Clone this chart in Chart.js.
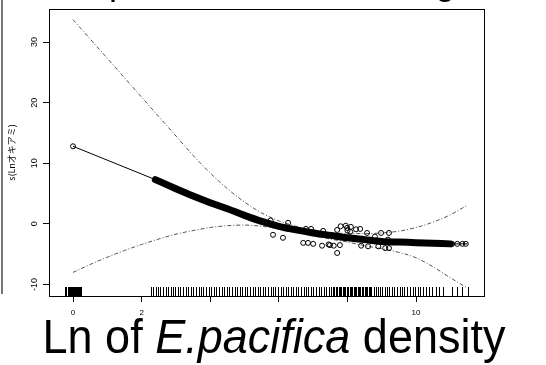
<!DOCTYPE html>
<html>
<head>
<meta charset="utf-8">
<script src="https://cdn.jsdelivr.net/npm/chart.js@4.4.1/dist/chart.umd.min.js"></script>
<style>
  html, body { margin: 0; padding: 0; background: #fff; }
  #wrap { width: 546px; height: 365px; position: relative; }
</style>
</head>
<body>
<div id="wrap"><canvas id="chart"></canvas></div>
<script>
// fitted smooth (thin line) and its dense part (thick band of overlapping points)
var fitX = [0, 2.4, 3, 3.5, 4, 4.5, 5, 5.5, 6, 6.5, 7, 7.5, 8, 8.5, 9, 9.5, 10, 10.5, 11, 11.5];
var fitY = [12.8, 7.3, 5.8, 4.6, 3.5, 2.5, 1.4, 0.4, -0.4, -1.0, -1.5, -1.9, -2.3, -2.6, -2.9, -3.0, -3.1, -3.2, -3.3, -3.3];
var bandX = [2.4, 3, 3.5, 4, 4.5, 5, 5.5, 6, 6.5, 7, 7.5, 8, 8.5, 9, 9.5, 10, 10.5, 11];
var bandY = [7.3, 5.8, 4.6, 3.5, 2.5, 1.4, 0.4, -0.4, -1.0, -1.5, -1.9, -2.3, -2.6, -2.9, -3.0, -3.1, -3.2, -3.3];

// confidence limits
var ciX = [0, 0.5, 1, 1.5, 2, 2.5, 3, 3.5, 4, 4.5, 5, 5.5, 6, 6.5, 7, 7.5, 8, 8.5, 9, 9.5, 10, 10.5, 11, 11.5];
var upperY = [33.7, 30.5, 27.3, 24.1, 20.9, 17.7, 14.5, 11.3, 8.4, 5.8, 3.6, 1.8, 0.5, -0.4, -1.0, -1.4, -1.6, -1.6, -1.5, -1.2, -0.6, 0.3, 1.5, 3.1];
var lowerY = [-8.0, -6.7, -5.5, -4.4, -3.4, -2.5, -1.7, -1.1, -0.6, -0.3, -0.2, -0.4, -0.8, -1.3, -1.9, -2.5, -3.0, -3.6, -4.1, -4.7, -5.6, -7.1, -8.9, -10.6];

// partial residual points away from the band
var ptX = [0, 5.76, 6.27, 5.83, 6.12, 6.79, 6.94, 7.29, 6.71, 6.85, 7.0, 7.26, 7.70, 7.49, 7.78, 7.99, 8.08, 8.37, 8.57, 8.98, 9.21, 9.18, 9.10, 9.21, 8.80,
           7.8, 7.95, 8.1, 8.25, 7.7, 8.0, 7.45, 7.6, 8.4, 8.6, 8.9, 11.05, 11.2, 11.35, 11.45];
var ptY = [12.8, 0.55, 0.17, -1.8, -2.3, -0.83, -0.83, -1.16, -3.14, -3.14, -3.3, -3.6, -4.8, -3.5, -3.5, -0.66, -1.3, -0.83, -1.5, -1.5, -1.5, -2.6, -4.0, -4.0, -2.1,
           -0.4, -0.3, -0.5, -0.9, -1.0, -1.1, -3.4, -3.6, -3.6, -3.7, -3.7, -3.3, -3.3, -3.3, -3.3];

// rug of observed x values
var rugX = [-0.22, -0.19, -0.16, -0.13, -0.10, -0.07, -0.04, -0.01, 0.02, 0.05, 0.08, 0.11, 0.14, 0.17, 0.20, 0.23,
  2.27, 2.33, 2.41, 2.47, 2.55, 2.62, 2.70, 2.76, 2.85, 2.91, 2.98, 3.06, 3.12, 3.20, 3.29, 3.35, 3.43, 3.50, 3.58, 3.66,
  3.72, 3.80, 3.88, 3.95, 4.03, 4.10, 4.18, 4.25, 4.33, 4.40, 4.49, 4.56, 4.62, 4.71, 4.78, 4.86, 4.93, 5.01, 5.08, 5.15,
  5.24, 5.31, 5.38, 5.46, 5.53, 5.60, 5.68, 5.76, 5.83, 5.90, 5.97, 6.05, 6.12, 6.20, 6.27, 6.35, 6.42, 6.49, 6.57, 6.64,
  6.72, 6.79, 6.86, 6.94, 7.01, 7.08, 7.16, 7.23, 7.31, 7.38, 7.45, 7.52, 7.58, 7.62, 7.66, 7.70, 7.74, 7.78, 7.82, 7.86,
  7.90, 7.94, 7.98, 8.02, 8.06, 8.10, 8.14, 8.18, 8.22, 8.26, 8.30, 8.34, 8.38, 8.42, 8.46, 8.50, 8.54, 8.58, 8.62, 8.66,
  8.70, 8.76, 8.82, 8.88, 8.95, 9.02, 9.08, 9.15, 9.22, 9.30, 9.37, 9.45, 9.52, 9.60, 9.66, 9.74, 9.81, 9.90, 9.97, 10.05,
  10.12, 10.21, 10.30, 10.38, 10.47, 10.58, 10.66, 10.79, 11.04, 11.19, 11.33, 11.52];

var xTickLabels = [0, 2, 10];
var yTitle = 's(Lnオキアミ)';
var topTitle = 'Response to krill shoaling';

function pts(xs, ys) {
  return xs.map(function (x, i) { return { x: x, y: ys[i] }; });
}

var dashCI = {
  showLine: true, pointRadius: 0, borderColor: '#555', borderWidth: 1,
  borderDash: [4, 2, 1, 2], cubicInterpolationMode: 'monotone', fill: false
};

// frame, rug and texts
var extras = {
  id: 'extras',
  beforeDraw: function (chart) {
    var ctx = chart.ctx;
    ctx.save();
    ctx.fillStyle = '#fff';
    ctx.fillRect(0, 0, chart.width, chart.height);
    ctx.restore();
  },
  afterDatasetsDraw: function (chart) {
    var ctx = chart.ctx, a = chart.chartArea, xs = chart.scales.x;
    ctx.save();
    ctx.strokeStyle = '#000';
    ctx.lineWidth = 1;
    ctx.beginPath();
    rugX.forEach(function (v) {
      var px = Math.round(xs.getPixelForValue(v)) + 0.5;
      ctx.moveTo(px, a.bottom);
      ctx.lineTo(px, a.bottom - 9);
    });
    ctx.stroke();
    ctx.strokeRect(Math.round(a.left) + 0.5, Math.round(a.top) + 0.5, Math.round(a.right - a.left), Math.round(a.bottom - a.top));
    ctx.restore();
  },
  afterDraw: function (chart) {
    var ctx = chart.ctx;
    ctx.save();
    ctx.fillStyle = '#000';
    ctx.textBaseline = 'alphabetic';
    // x axis title, mixed upright / italic, slightly condensed
    var parts = [
      ['Ln of ', '48px "Liberation Sans"'],
      ['E.pacifica', 'italic 48px "Liberation Sans"'],
      [' density', '48px "Liberation Sans"']
    ];
    var total = 0;
    parts.forEach(function (p) { ctx.font = p[1]; total += ctx.measureText(p[0]).width; });
    ctx.save();
    ctx.translate(274, 353);
    ctx.scale(463 / total, 1);
    var x = -total / 2;
    parts.forEach(function (p) {
      ctx.font = p[1];
      ctx.fillText(p[0], x, 0);
      x += ctx.measureText(p[0]).width;
    });
    ctx.restore();
    // cut-off main title at the top
    ctx.font = '36px "Liberation Sans"';
    ctx.fillText(topTitle, 45, -6);
    // stray frame line at the left edge
    ctx.strokeStyle = '#777';
    ctx.lineWidth = 2;
    ctx.beginPath();
    ctx.moveTo(2, 0);
    ctx.lineTo(2, 294);
    ctx.stroke();
    ctx.restore();
  }
};

new Chart(document.getElementById('chart'), {
  type: 'scatter',
  data: {
    datasets: [
      {
        data: pts(ptX, ptY), pointStyle: 'circle', pointRadius: 2.5,
        borderColor: '#000', borderWidth: 1, backgroundColor: 'rgba(0,0,0,0)'
      },
      {
        data: pts(bandX, bandY), showLine: true, pointRadius: 0,
        borderColor: '#000', borderWidth: 7, borderCapStyle: 'round', cubicInterpolationMode: 'monotone'
      },
      {
        data: pts(fitX, fitY), showLine: true, pointRadius: 0,
        borderColor: '#000', borderWidth: 1, tension: 0
      },
      Object.assign({ data: pts(ciX, upperY) }, dashCI),
      Object.assign({ data: pts(ciX, lowerY) }, dashCI)
    ]
  },
  options: {
    responsive: true,
    maintainAspectRatio: false,
    animation: false,
    devicePixelRatio: 1,
    layout: { padding: { top: 9, right: 62, left: 0, bottom: 0 } },
    plugins: { legend: { display: false }, tooltip: { enabled: false } },
    scales: {
      x: {
        type: 'linear', min: -0.7, max: 11.98,
        afterFit: function (s) { s.height = 69; },
        grid: { drawOnChartArea: false, drawTicks: true, tickLength: 6, tickColor: '#000' },
        border: { display: true, color: '#000' },
        ticks: {
          stepSize: 2, includeBounds: false, color: '#000', padding: 6, maxRotation: 0,
          autoSkip: false, font: { family: 'Liberation Sans', size: 8 },
          callback: function (v) { return xTickLabels.indexOf(v) >= 0 ? String(v) : ''; }
        }
      },
      y: {
        type: 'linear', min: -11.9, max: 35.45,
        afterFit: function (s) { s.width = 49; },
        grid: { drawOnChartArea: false, drawTicks: true, tickLength: 6, tickColor: '#000' },
        border: { display: true, color: '#000' },
        title: {
          display: true, text: yTitle, color: '#000',
          font: { family: 'Noto Sans CJK JP', size: 9 }, padding: { top: 6, bottom: 0 }
        },
        ticks: {
          stepSize: 10, includeBounds: false, color: '#000', padding: 2,
          minRotation: 90, maxRotation: 90, crossAlign: 'center',
          font: { family: 'Liberation Sans', size: 9 }
        }
      }
    }
  },
  plugins: [extras]
});
</script>
</body>
</html>
